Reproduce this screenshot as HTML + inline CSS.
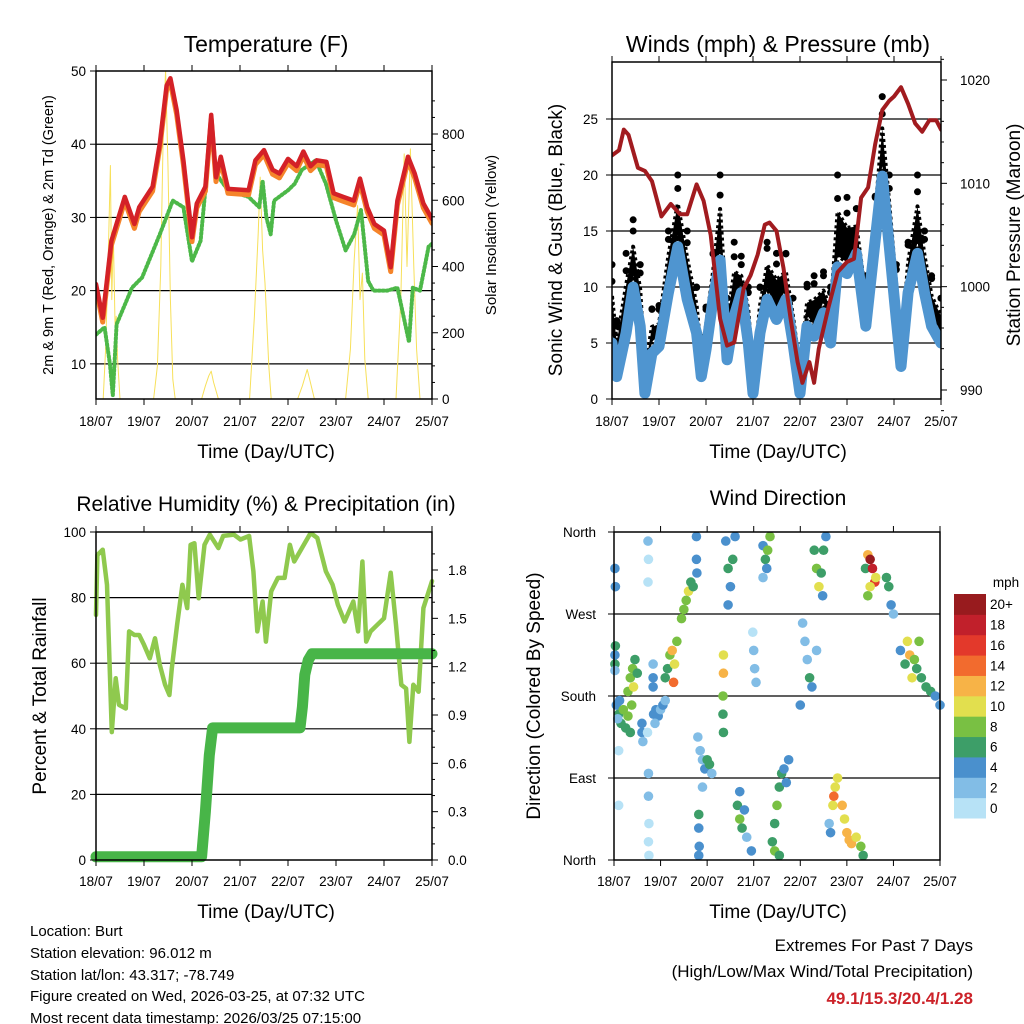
<!DOCTYPE html>
<html><head><meta charset="utf-8"><style>
html,body{margin:0;padding:0;background:#fff}
svg{display:block;font-family:"Liberation Sans",sans-serif}
</style></head><body>
<svg id="c" width="1024" height="1024" viewBox="0 0 1024 1024" xmlns="http://www.w3.org/2000/svg">
<g id="g"></g>
<text x="30" y="936" font-size="15">Location: Burt</text>
<text x="30" y="958" font-size="15">Station elevation: 96.012 m</text>
<text x="30" y="980" font-size="15">Station lat/lon: 43.317; -78.749</text>
<text x="30" y="1001" font-size="15">Figure created on Wed, 2026-03-25, at 07:32 UTC</text>
<text x="30" y="1023" font-size="15">Most recent data timestamp: 2026/03/25 07:15:00</text>
<text x="973" y="951" font-size="17" text-anchor="end">Extremes For Past 7 Days</text>
<text x="973" y="977" font-size="17" text-anchor="end">(High/Low/Max Wind/Total Precipitation)</text>
<text x="973" y="1004" font-size="17" font-weight="bold" fill="#cc2229" text-anchor="end">49.1/15.3/20.4/1.28</text>
</svg>
<script>
// ---------- data ----------
const dayLabels=["18/07","19/07","20/07","21/07","22/07","23/07","24/07","25/07"];
const tempDays=[0,0.14,0.32,0.6,0.8,0.9,1.18,1.33,1.47,1.55,1.68,1.82,2.0,2.1,2.28,2.4,2.5,2.6,2.75,3.18,3.32,3.5,3.68,3.82,4.0,4.18,4.32,4.47,4.6,4.8,4.95,5.15,5.37,5.5,5.65,5.8,6.0,6.14,6.28,6.5,6.64,6.82,7.0];
const tempF=[20.9,16.3,26.8,32.8,29.1,31.4,34.2,40.1,48,49,44.7,37.8,27.3,31.9,34.2,44,35.5,38.3,33.9,33.7,37.8,39.2,36.5,36,38,37,39,37,37.8,37.6,33.3,32.8,32.3,35.3,31.4,29.1,28.2,23.2,32.3,38.3,36,31.9,29.8];
const dewDays=[0,0.18,0.29,0.35,0.43,0.75,0.96,1.33,1.6,1.82,2.0,2.18,2.4,2.5,2.75,3.18,3.4,3.47,3.55,3.64,3.71,4.0,4.14,4.29,4.58,4.79,5.0,5.2,5.38,5.52,5.67,5.78,6.07,6.28,6.52,6.6,6.75,6.93,7.0];
const dewF=[14,15,10,5.7,15.4,20.4,21.8,27.7,32.3,31.4,24,26.8,42.4,36,33.7,32.8,31.4,35,30,27.7,32.3,33.7,34.6,36.5,37.8,34.6,29.6,25.5,27.7,31,21.3,20,20,20.4,13,20.4,20,26,26.4];
const solarDays=[0,0.15,0.2,0.25,0.3,0.33,0.36,0.4,0.42,0.45,0.5,1.2,1.28,1.35,1.4,1.45,1.5,1.55,1.6,1.65,2.2,2.28,2.35,2.4,2.45,2.55,3.2,3.3,3.38,3.42,3.47,3.52,3.6,3.65,4.2,4.3,4.4,4.45,4.55,5.2,5.3,5.38,5.45,5.5,5.55,5.6,5.67,6.25,6.35,6.42,6.48,6.55,6.62,6.68,6.75,7.0];
const solarW=[0,0,150,400,705,300,500,200,250,120,0,0,100,400,800,993,700,300,60,0,0,40,70,84,50,0,0,250,500,670,450,350,100,0,0,40,89,60,0,0,150,420,584,300,380,120,0,0,300,740,400,755,400,150,0,0];
const windDays=[0,0.1,0.3,0.45,0.6,0.7,0.85,1.0,1.2,1.4,1.6,1.8,1.9,2.0,2.15,2.3,2.45,2.6,2.75,2.9,3.0,3.15,3.3,3.5,3.7,3.85,4.0,4.15,4.3,4.5,4.65,4.8,5.0,5.2,5.4,5.6,5.75,5.9,6.05,6.15,6.3,6.5,6.65,6.8,7.0];
const windMph=[5,2,5.9,10,6.5,0.5,4.1,4.7,9.5,13.6,8.9,5.9,2,4.4,8.9,12.4,3.5,7.4,9.5,5,0.5,5.9,8.9,7.1,8.9,5,0.5,6.5,5.6,7.7,5,11.8,11.2,13,6.5,14.2,19.9,13.6,7.1,2.9,9.5,13,9.5,6.5,5];
const gustMph=[12,7,13,16,12,4,8,8,15,20,15,10,5,8,13,20,9,14,12,10,3,10,14,13,13,9,4,10,11,11,10,20,18,17,11,18,27,20,12,5,14,20,15,11,9];
const presDays=[0,0.15,0.25,0.35,0.55,0.7,0.85,1.05,1.25,1.45,1.6,1.8,1.95,2.1,2.3,2.45,2.6,2.8,2.95,3.1,3.25,3.35,3.5,3.65,3.8,3.95,4.05,4.2,4.3,4.4,4.6,4.8,5.0,5.15,5.3,5.45,5.6,5.75,5.9,6.0,6.15,6.3,6.45,6.6,6.75,6.9,7.0];
const presMb=[1012.7,1013.2,1015.2,1014.7,1011.5,1011.2,1010.2,1006.8,1008,1007,1007,1009.9,1008.3,1005,996.9,994.3,994.6,999.8,1001.1,1003.1,1006,1006.2,1005.4,1001.8,996.9,992.7,990.7,992.7,990.7,994,997.9,1001.4,1002.4,1002.7,1008.6,1009.6,1013.8,1017.1,1018,1018.4,1019.3,1017.7,1015.8,1015,1016.1,1016.1,1015.2];
const rhDays=[0,0.03,0.14,0.23,0.33,0.41,0.48,0.62,0.69,0.8,0.9,1.0,1.12,1.23,1.33,1.44,1.53,1.58,1.69,1.8,1.9,1.97,2.05,2.14,2.26,2.37,2.55,2.65,2.87,3.01,3.19,3.28,3.36,3.47,3.54,3.65,3.79,3.93,4.04,4.13,4.29,4.47,4.61,4.79,4.93,5.04,5.18,5.36,5.46,5.55,5.63,5.72,5.86,6.0,6.14,6.25,6.36,6.46,6.53,6.61,6.72,6.82,7.0];
const rhPct=[74.7,93,94.6,83.9,39,55.4,47.3,46.2,69.7,68.6,68.6,65.6,61.5,67.6,59.5,53.4,50.3,58.4,71.7,83.9,76.8,96.1,96.6,79.8,96.1,99.2,95.1,98.8,99.2,97.7,98.8,88,69.7,78.8,66.6,81.9,86,86,96.1,91,95.1,99.7,98.2,88,83.9,77.8,72.7,78.8,69.7,91,66.6,69.7,71.7,73.7,87.6,71.7,53.4,52.3,36,53.4,51.3,76.8,85];
const precipDays=[0,2.2,2.28,2.36,2.43,4.25,4.3,4.35,4.42,4.5,7.0];
const precipIn=[0.02,0.02,0.3,0.65,0.82,0.82,0.95,1.15,1.24,1.28,1.28];
const dirDays=[0.02,0.02,0.03,0.02,0.03,0.02,0.05,0.1,0.15,0.2,0.25,0.3,0.35,0.12,0.38,0.08,0.3,0.35,0.4,0.45,0.42,0.5,0.6,0.6,0.62,0.73,0.74,0.73,0.74,0.74,0.75,0.74,0.75,0.72,0.1,0.1,0.85,0.9,0.95,1.0,1.05,1.1,0.88,0.84,0.84,0.84,1.1,1.15,1.2,1.25,1.3,1.35,1.28,1.45,1.5,1.55,1.6,1.65,1.7,1.77,1.77,1.78,1.8,1.85,1.9,1.95,2.0,2.05,2.1,1.9,1.82,1.82,1.83,1.82,2.35,2.35,2.34,2.34,2.35,2.4,2.45,2.5,2.55,2.6,2.45,2.65,2.7,2.75,2.8,2.85,2.95,2.7,2.98,3.0,3.02,3.05,3.2,3.25,3.3,3.35,3.2,3.28,3.4,3.45,3.5,3.55,3.6,3.65,3.7,3.75,3.45,3.55,4.05,4.1,4.15,4.2,4.25,4.35,4.0,4.3,4.35,4.4,4.45,4.5,4.55,4.48,4.62,4.65,4.7,4.75,4.8,4.72,4.9,4.95,5.0,5.05,5.1,5.2,5.3,5.35,5.4,5.45,5.5,5.55,5.6,5.5,5.45,5.62,5.85,5.9,5.95,6.0,6.15,6.25,6.3,6.35,6.4,6.45,6.5,6.6,6.55,6.7,6.8,6.9,7.0];
const dirDeg=[215,225,235,208,300,320,170,160,150,165,145,158,140,175,170,155,185,200,210,220,190,205,150,140,130,350,330,305,95,70,40,20,5,140,60,120,160,165,158,165,170,175,150,200,215,190,200,210,225,230,215,240,195,265,275,285,295,305,300,355,330,315,135,120,110,100,110,105,95,80,50,35,15,5,225,205,180,160,140,350,320,300,330,355,280,60,45,35,55,25,10,75,250,230,210,195,345,330,340,355,310,320,20,40,60,80,95,100,85,110,10,5,260,240,220,200,190,230,170,340,320,300,315,340,355,290,40,30,60,80,90,70,60,45,30,22,18,25,15,5,320,335,330,320,305,300,290,310,310,300,280,270,230,215,240,225,200,220,210,200,240,190,185,180,170];
const dirSpd=[6,4,7,3,4,4,5,6,7,8,6,8,7,4,9,3,8,9,8,7,10,6,4,5,3,2,1,0,2,2,1,1,1,0,0,1,4,4,4,3,4,3,2,4,3,5,6,7,8,12,11,8,14,8,9,8,10,7,6,4,4,5,2,3,2,4,6,7,3,2,6,5,4,4,10,12,8,7,6,4,6,5,7,4,4,6,8,7,4,3,4,4,1,2,2,2,5,7,8,8,2,4,6,7,8,7,6,5,4,4,8,6,2,3,2,6,4,3,4,6,8,10,7,6,5,4,3,4,10,11,10,14,12,11,12,13,12,10,8,6,6,12,20,19,16,10,8,10,7,6,4,3,4,6,11,12,10,8,7,6,9,6,6,5,4];
const spdColors=["#b7e2f6","#82bde6","#4a90cd","#3d9e68","#79c043","#e2df4e","#f7b347","#f26b2e","#e3392b","#c1202b","#981b1e"];
const spdLabels=["0","2","4","6","8","10","12","14","16","18","20+"];

// ---------- helpers ----------
const NS="http://www.w3.org/2000/svg";
const root=document.getElementById('g');
function mk(tag,attrs,parent){const e=document.createElementNS(NS,tag);for(const k in attrs)e.setAttribute(k,attrs[k]);(parent||root).appendChild(e);return e;}
function lin(d0,d1,r0,r1){return v=>r0+(v-d0)/(d1-d0)*(r1-r0);}
function txt(x,y,s,size,anchor,name,extra){const t=mk('text',Object.assign({x:x,y:y,'font-size':size,'text-anchor':anchor||'middle'},extra||{}));t.textContent=s;


return t;}
function line(x1,y1,x2,y2,stroke,w,name){const l=mk('line',{x1:x1,y1:y1,x2:x2,y2:y2,stroke:stroke,'stroke-width':w});


return l;}
function poly(xs,ys,fx,fy,stroke,w,name,extra){const p=mk('polyline',Object.assign({points:xs.map((v,i)=>fx(v).toFixed(1)+','+fy(ys[i]).toFixed(1)).join(' '),fill:'none',stroke:stroke,'stroke-width':w,'stroke-linejoin':'round','stroke-linecap':'round'},extra||{}));


return p;}
function frame(x0,x1,y0,y1,name){const r=mk('rect',{x:x0,y:y0,width:x1-x0,height:y1-y0,fill:'none',stroke:'#000','stroke-width':1.5});

}
function xAxis(fx,y0,y1,labY,prefix){dayLabels.forEach((s,i)=>{line(fx(i),y1,fx(i),y1+6,'#000',1,prefix+'-x-tick');line(fx(i),y0,fx(i),y0-6,'#000',1,prefix+'-x-tick-top');txt(fx(i),labY,s,13.5,'middle',prefix+'-x-tick-label');});}

// ---------- Temperature panel ----------
(function(){
const X0=96,X1=432,Y0=71,Y1=399;
const fx=lin(0,7,X0,X1), fy=lin(50,5.2,Y0,Y1), fs=lin(0,800,Y1,134);
[10,20,30,40].forEach(v=>line(X0,fy(v),X1,fy(v),'#000',1.2,'temp-gridline'));
const clip=mk('clipPath',{id:'ct'});mk('rect',{x:X0,y:Y0,width:X1-X0,height:Y1-Y0},clip);
const g=mk('g',{'clip-path':'url(#ct)'});


const s=poly(solarDays,solarW,fx,fs,'#f7e05a',1,'solar-line');g.appendChild(s);
const d=poly(dewDays,dewF,fx,fy,'#4cb848',4,'dewpoint-line',{'stroke-dasharray':'1.5 2.5'});g.appendChild(d);
const o=poly(tempDays,tempF.map(v=>v-0.6),fx,fy,'#f5842a',5,'temp-9m-line');g.appendChild(o);
const r=poly(tempDays,tempF,fx,fy,'#d42127',4.5,'temp-2m-line');g.appendChild(r);
frame(X0,X1,Y0,Y1,'temp-frame');
[10,20,30,40,50].forEach(v=>{line(X0-6,fy(v),X0,fy(v),'#000',1,'temp-y-tick');txt(X0-10,fy(v)+5,String(v),13.5,'end','temp-y-tick-label');});
for(let v=0;v<=900;v+=50){line(X1,fs(v),X1+(v%200==0?6:3),fs(v),'#000',1,'solar-tick');}
[0,200,400,600,800].forEach(v=>txt(X1+10,fs(v)+5,String(v),13.5,'start','solar-tick-label'));
xAxis(fx,Y0,Y1,426,'temp');
txt(266,52,'Temperature (F)',23,'middle','temp-title');
txt(266,458,'Time (Day/UTC)',19,'middle','temp-x-title');
txt(0,0,'2m & 9m T (Red, Orange) & 2m Td (Green)',14.5,'middle','temp-y-title',{transform:'translate(53,235) rotate(-90)'});
txt(0,0,'Solar Insolation (Yellow)',15,'middle','solar-y-title',{transform:'translate(496,235) rotate(-90)'});
})();

// ---------- Winds panel ----------
(function(){
const X0=612,X1=941,Y0=62,Y1=399;
const fx=lin(0,7,X0,X1), fy=lin(0,25,Y1,119), fp=lin(990,1020,390,80);
[5,10,15,20,25].forEach(v=>line(X0,fy(v),X1,fy(v),'#000',1.2,'wind-gridline'));
const clip=mk('clipPath',{id:'cw'});mk('rect',{x:X0,y:Y0,width:X1-X0,height:Y1-Y0},clip);
const g=mk('g',{'clip-path':'url(#cw)'});


const pts=windDays.map((d,i)=>fx(d)+','+fy(windMph[i]+(gustMph[i]-windMph[i])*0.6)).concat(windDays.slice().reverse().map((d,j)=>{const i=windDays.length-1-j;return fx(d)+','+fy(windMph[i]+1);}));
const a=mk('polygon',{points:pts.join(' '),fill:'#000',stroke:'#000','stroke-width':4,'stroke-linejoin':'round','stroke-dasharray':'3 3'},g);


windDays.forEach((d,i)=>{const c=mk('circle',{cx:fx(d),cy:fy(gustMph[i]),r:3.5,fill:'#000'},g);


const c2=mk('circle',{cx:fx(d),cy:fy((gustMph[i]+windMph[i])/2+2),r:3.5,fill:'#000'},g);

});
g.appendChild(poly(windDays,windMph,fx,fy,'#4f95d0',11,'wind-speed-line'));
g.appendChild(poly(presDays,presMb,fx,fp,'#a11b1f',4,'pressure-line'));
frame(X0,X1,Y0,Y1,'wind-frame');
[0,5,10,15,20,25].forEach(v=>{line(X0-6,fy(v),X0,fy(v),'#000',1,'wind-y-tick');txt(X0-14,fy(v)+5,String(v),13.5,'end','wind-y-tick-label');});
for(let v=988;v<=1022;v+=2){line(X1,fp(v),X1+(v%10==0?6:3),fp(v),'#000',1,'pressure-tick');}
[990,1000,1010,1020].forEach(v=>txt(X1+19,fp(v)+5,String(v),13.5,'start','pressure-tick-label'));
xAxis(fx,Y0,Y1,426,'wind');
txt(778,52,'Winds (mph) & Pressure (mb)',23,'middle','wind-title');
txt(778,458,'Time (Day/UTC)',19,'middle','wind-x-title');
txt(0,0,'Sonic Wind & Gust (Blue, Black)',19,'middle','wind-y-title',{transform:'translate(562,240) rotate(-90)'});
txt(0,0,'Station Pressure (Maroon)',19,'middle','pressure-y-title',{transform:'translate(1020,235) rotate(-90)'});
})();

// ---------- RH panel ----------
(function(){
const X0=96,X1=432,Y0=532,Y1=860;
const fx=lin(0,7,X0,X1), fy=lin(0,100,Y1,Y0), fr=lin(0,1.8,Y1,570);
[20,40,60,80].forEach(v=>line(X0,fy(v),X1,fy(v),'#000',1.2,'rh-gridline'));
const clip=mk('clipPath',{id:'cr'});mk('rect',{x:X0-6,y:Y0,width:X1-X0+12,height:Y1-Y0+6},clip);
const g=mk('g',{'clip-path':'url(#cr)'});


g.appendChild(poly(rhDays,rhPct,fx,fy,'#8fc94e',4.5,'rh-line'));
g.appendChild(poly(precipDays,precipIn,fx,fr,'#48b548',11,'precip-line'));
frame(X0,X1,Y0,Y1,'rh-frame');
[0,20,40,60,80,100].forEach(v=>{line(X0-6,fy(v),X0,fy(v),'#000',1,'rh-y-tick');txt(X0-10,fy(v)+5,String(v),13.5,'end','rh-y-tick-label');});
for(let v=0;v<=2.0;v+=0.1){line(X1,fr(v),X1+(Math.round(v*10)%3==0?6:3),fr(v),'#000',1,'precip-tick');}
['0.0','0.3','0.6','0.9','1.2','1.5','1.8'].forEach(s=>txt(X1+16,fr(parseFloat(s))+5,s,13.5,'start','precip-tick-label'));
xAxis(fx,Y0,Y1,886,'rh');
txt(266,511,'Relative Humidity (%) & Precipitation (in)',21,'middle','rh-title');
txt(266,918,'Time (Day/UTC)',19,'middle','rh-x-title');
txt(0,0,'Percent & Total Rainfall',19,'middle','rh-y-title',{transform:'translate(46,696) rotate(-90)'});
})();

// ---------- Wind direction panel ----------
(function(){
const X0=614,X1=940,Y0=532,Y1=860;
const fx=lin(0,7,X0,X1), fy=lin(0,360,Y1,Y0);
[90,180,270].forEach(v=>line(X0,fy(v),X1,fy(v),'#000',1.2,'dir-gridline'));
const clip=mk('clipPath',{id:'cd'});mk('rect',{x:X0-6,y:Y0-5,width:X1-X0+12,height:Y1-Y0+10},clip);
const g=mk('g',{'clip-path':'url(#cd)'});


dirDays.forEach((d,i)=>{const b=Math.min(10,Math.floor(dirSpd[i]/2));const c=mk('circle',{cx:fx(d),cy:fy(dirDeg[i]),r:4.8,fill:spdColors[b]},g);

});
frame(X0,X1,Y0,Y1,'dir-frame');
[['North',0],['East',90],['South',180],['West',270],['North',360]].forEach(p=>{line(X0-6,fy(p[1]),X0,fy(p[1]),'#000',1,'dir-y-tick');txt(X0-18,fy(p[1])+5,p[0],13.5,'end','dir-y-tick-label');});
xAxis(fx,Y0,Y1,886,'dir');
txt(778,505,'Wind Direction',21,'middle','dir-title');
txt(778,918,'Time (Day/UTC)',19,'middle','dir-x-title');
txt(0,0,'Direction (Colored By Speed)',19,'middle','dir-y-title',{transform:'translate(540,696) rotate(-90)'});
const cbTop=594,cbH=224/11;
spdColors.forEach((c,i)=>{const r=mk('rect',{x:954,y:cbTop+(10-i)*cbH,width:32,height:cbH+0.5,fill:c});


txt(990,cbTop+(10-i)*cbH+cbH/2+5,spdLabels[i],13.5,'start','colorbar-label');});
txt(1006,587,'mph',13.5,'middle','colorbar-title');
})();
</script>
</body></html>
